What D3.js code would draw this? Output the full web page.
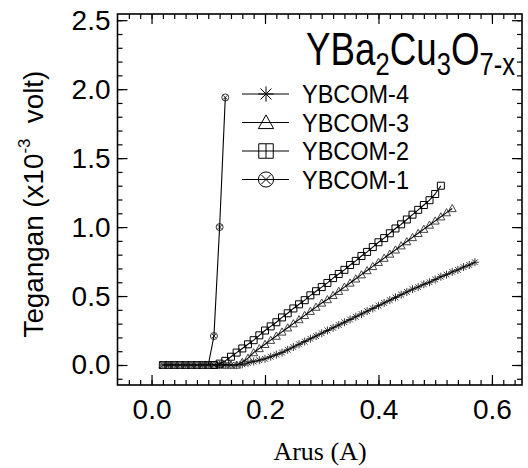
<!DOCTYPE html>
<html>
<head>
<meta charset="utf-8">
<script src="https://cdn.jsdelivr.net/npm/d3@7/dist/d3.min.js"></script>
<style>
  body { margin: 0; background: #fff; }
  .axis text { font-family: "Liberation Sans", Arial, sans-serif; font-size: 28px; fill: #000; }
  .axis path { display: none; }
</style>
</head>
<body>
<div id="vis"></div>
<script>
// Current (A) shared by all series
var arus = [0.02, 0.03, 0.04, 0.05, 0.06, 0.07, 0.08, 0.09, 0.10, 0.11,
    0.12, 0.13, 0.14, 0.15, 0.16, 0.17, 0.18, 0.19, 0.20, 0.21,
    0.22, 0.23, 0.24, 0.25, 0.26, 0.27, 0.28, 0.29, 0.30, 0.31,
    0.32, 0.33, 0.34, 0.35, 0.36, 0.37, 0.38, 0.39, 0.40, 0.41,
    0.42, 0.43, 0.44, 0.45, 0.46, 0.47, 0.48, 0.49, 0.50, 0.51,
    0.52, 0.53, 0.54, 0.55, 0.56, 0.57];

// Voltage (x10^-3 V), one value per current sample
var ybcom1 = [0, 0, 0, 0, 0, 0, 0, 0, 0, 0.21, 1.00, 1.94];
var ybcom2 = [0, 0, 0, 0, 0, 0, 0, 0, 0, 0,
    0.01, 0.03, 0.06, 0.09, 0.12, 0.15, 0.18, 0.215, 0.25, 0.28,
    0.31, 0.345, 0.375, 0.41, 0.44, 0.47, 0.505, 0.535, 0.565, 0.595,
    0.63, 0.66, 0.69, 0.725, 0.755, 0.79, 0.82, 0.855, 0.89, 0.92,
    0.955, 0.99, 1.02, 1.055, 1.09, 1.125, 1.16, 1.195, 1.24, 1.30];
var ybcom3 = [0, 0, 0, 0, 0, 0, 0, 0, 0, 0, 0, 0, 0, 0,
    0.02, 0.05, 0.09, 0.12, 0.15, 0.18, 0.21, 0.24, 0.27, 0.30,
    0.33, 0.36, 0.39, 0.42, 0.45, 0.475, 0.505, 0.535, 0.565, 0.595,
    0.625, 0.655, 0.685, 0.715, 0.745, 0.775, 0.805, 0.835, 0.865, 0.895,
    0.925, 0.955, 0.985, 1.015, 1.045, 1.075, 1.105, 1.135];
var ybcom4 = [0, 0, 0, 0, 0, 0, 0, 0, 0, 0, 0, 0, 0, 0,
    0.005, 0.015, 0.025, 0.035, 0.045, 0.06, 0.075, 0.09, 0.11, 0.13,
    0.15, 0.17, 0.19, 0.21, 0.23, 0.25, 0.27, 0.29, 0.31, 0.33,
    0.35, 0.37, 0.39, 0.41, 0.43, 0.45, 0.47, 0.49, 0.51, 0.53,
    0.55, 0.565, 0.585, 0.60, 0.62, 0.64, 0.655, 0.675, 0.69, 0.71,
    0.725, 0.745];

var seriesNames = ['YBCOM-4', 'YBCOM-3', 'YBCOM-2', 'YBCOM-1'];
var xTicks = [0.0, 0.2, 0.4, 0.6];
var yTicks = [0.0, 0.5, 1.0, 1.5, 2.0, 2.5];

// custom marker shapes
var starSym = {
    draw: function(ctx, size) {
        var r = Math.sqrt(size) / 2;
        var d = r * 0.72;
        ctx.moveTo(-r, 0); ctx.lineTo(r, 0);
        ctx.moveTo(0, -r); ctx.lineTo(0, r);
        ctx.moveTo(-d, -d); ctx.lineTo(d, d);
        ctx.moveTo(-d, d); ctx.lineTo(d, -d);
    }
};
var triSym = {
    draw: function(ctx, size) {
        var r = Math.sqrt(size) / 2;
        ctx.moveTo(0, -r);
        ctx.lineTo(r, r * 0.8);
        ctx.lineTo(-r, r * 0.8);
        ctx.closePath();
    }
};
var sqSym = {
    draw: function(ctx, size) {
        var r = Math.sqrt(size) / 2;
        ctx.rect(-r, -r, 2 * r, 2 * r);
    }
};
var circXSym = {
    draw: function(ctx, size) {
        var r = Math.sqrt(size) / 2;
        var d = r * 0.62;
        ctx.moveTo(r, 0);
        ctx.arc(0, 0, r, 0, 2 * Math.PI);
        ctx.moveTo(-d, -d); ctx.lineTo(d, d);
        ctx.moveTo(-d, d); ctx.lineTo(d, -d);
    }
};

var series = [
    { name: seriesNames[0], values: ybcom4, sym: starSym, color: '#333', size: 64 },
    { name: seriesNames[1], values: ybcom3, sym: triSym, color: '#444', size: 64 },
    { name: seriesNames[2], values: ybcom2, sym: sqSym, color: '#000', size: 49 },
    { name: seriesNames[3], values: ybcom1, sym: circXSym, color: '#333', size: 49 }
];

var width = 528;
var height = 468;
var margin = { left: 117.5, top: 14, right: 6, bottom: 83 };
var drawWidth = width - margin.left - margin.right;
var drawHeight = height - margin.top - margin.bottom;

var svg = d3.select('#vis')
    .append('svg')
    .attr('width', width)
    .attr('height', height);

var g = svg.append('g')
    .attr('transform', 'translate(' + margin.left + ',' + margin.top + ')');

var xScale = d3.scaleLinear().domain([-0.06, 0.653]).range([0, drawWidth]);
var yScale = d3.scaleLinear().domain([-0.145, 2.545]).range([drawHeight, 0]);

var xMinor = d3.range(-0.04, 0.65, 0.02);
var yMinor = d3.range(-0.1, 2.55, 0.1);

// inward ticks on all four sides, labels only where pad is given
function addAxis(axisFn, scale, vals, size, tx, ty, pad) {
    var ax = axisFn(scale).tickValues(vals).tickSizeInner(-size).tickSizeOuter(0)
        .tickPadding(pad || 0)
        .tickFormat(pad ? d3.format('.1f') : function() { return ''; });
    var a = g.append('g')
        .attr('class', 'axis')
        .attr('transform', 'translate(' + tx + ',' + ty + ')')
        .call(ax);
    a.selectAll('line').attr('stroke', '#000').attr('stroke-width', 1.2);
    return a;
}
addAxis(d3.axisBottom, xScale, xMinor, 5, 0, drawHeight, 0);
addAxis(d3.axisBottom, xScale, xTicks, 10, 0, drawHeight, 14);
addAxis(d3.axisTop, xScale, xMinor, 5, 0, 0, 0);
addAxis(d3.axisTop, xScale, xTicks, 10, 0, 0, 0);
addAxis(d3.axisLeft, yScale, yMinor, 5, 0, 0, 0);
addAxis(d3.axisLeft, yScale, yTicks, 10, 0, 0, 7);
addAxis(d3.axisRight, yScale, yMinor, 5, drawWidth, 0, 0);
addAxis(d3.axisRight, yScale, yTicks, 10, drawWidth, 0, 0);

// frame
g.append('rect')
    .attr('width', drawWidth)
    .attr('height', drawHeight)
    .attr('fill', 'none')
    .attr('stroke', '#000')
    .attr('stroke-width', 1.6);

var line = d3.line()
    .x(function(d, i) { return xScale(arus[i]); })
    .y(function(d) { return yScale(d); });

series.forEach(function(s) {
    var sg = g.append('g');
    var symbol = d3.symbol().type(s.sym).size(s.size);
    sg.selectAll('path.mk').data(s.values).enter().append('path')
        .attr('class', 'mk')
        .attr('transform', function(d, i) {
            return 'translate(' + xScale(arus[i]) + ',' + yScale(d) + ')';
        })
        .attr('d', symbol)
        .attr('fill', 'none')
        .attr('stroke', s.color)
        .attr('stroke-width', 1);
    sg.append('path')
        .attr('d', line(s.values))
        .attr('fill', 'none')
        .attr('stroke', '#000')
        .attr('stroke-width', 1.1);
});

// legend
var legend = svg.append('g').attr('transform', 'translate(242,94)');
series.forEach(function(s, i) {
    var row = legend.append('g').attr('transform', 'translate(0,' + (i * 28.5) + ')');
    row.append('line')
        .attr('x1', 0).attr('x2', 47)
        .attr('stroke', '#000').attr('stroke-width', 1);
    row.append('path')
        .attr('transform', 'translate(24,0)')
        .attr('d', d3.symbol().type(s.sym).size(s.name === 'YBCOM-2' ? 210 : 230))
        .attr('fill', 'none')
        .attr('stroke', '#000')
        .attr('stroke-width', 1);
    if (s.name === 'YBCOM-2') {
        row.append('line').attr('x1', 24).attr('x2', 24).attr('y1', -7).attr('y2', 7)
            .attr('stroke', '#000').attr('stroke-width', 1);
    }
    row.append('text')
        .attr('x', 60)
        .attr('y', 9)
        .attr('font-family', 'Liberation Sans')
        .attr('font-size', 25)
        .attr('textLength', 107)
        .attr('lengthAdjust', 'spacingAndGlyphs')
        .text(s.name);
});

// compound label, squeezed to the width of the original
var title = svg.append('g');
var tt = title.append('text')
    .attr('font-family', 'Liberation Sans')
    .attr('font-size', 46);
tt.append('tspan').text('YBa');
tt.append('tspan').attr('font-size', 32).attr('dy', 10).text('2');
tt.append('tspan').attr('dy', -10).text('Cu');
tt.append('tspan').attr('font-size', 32).attr('dy', 10).text('3');
tt.append('tspan').attr('dy', -10).text('O');
tt.append('tspan').attr('font-size', 32).attr('dy', 10).text('7-x');
var tw = tt.node().getBBox().width;
var k = 209 / tw;
title.attr('transform', 'translate(' + (515 - 209) + ',65) scale(' + k + ',1)');

// axis titles
svg.append('text')
    .attr('x', 320)
    .attr('y', 460)
    .attr('text-anchor', 'middle')
    .attr('font-family', 'Liberation Serif')
    .attr('font-size', 26)
    .text('Arus (A)');

var yt = svg.append('text')
    .attr('font-family', 'Liberation Sans')
    .attr('font-size', 28);
yt.append('tspan').text('Tegangan (x10');
yt.append('tspan').attr('font-size', 17).attr('dy', -13).text('-3');
yt.append('tspan').attr('dy', 13).text('\u00a0 volt)');
var yw = yt.node().getBBox().width;
var yk = 267 / yw;
yt.attr('transform', 'translate(43,' + (204 + 267 / 2) + ') rotate(-90) scale(' + yk + ',1)');
</script>
</body>
</html>
